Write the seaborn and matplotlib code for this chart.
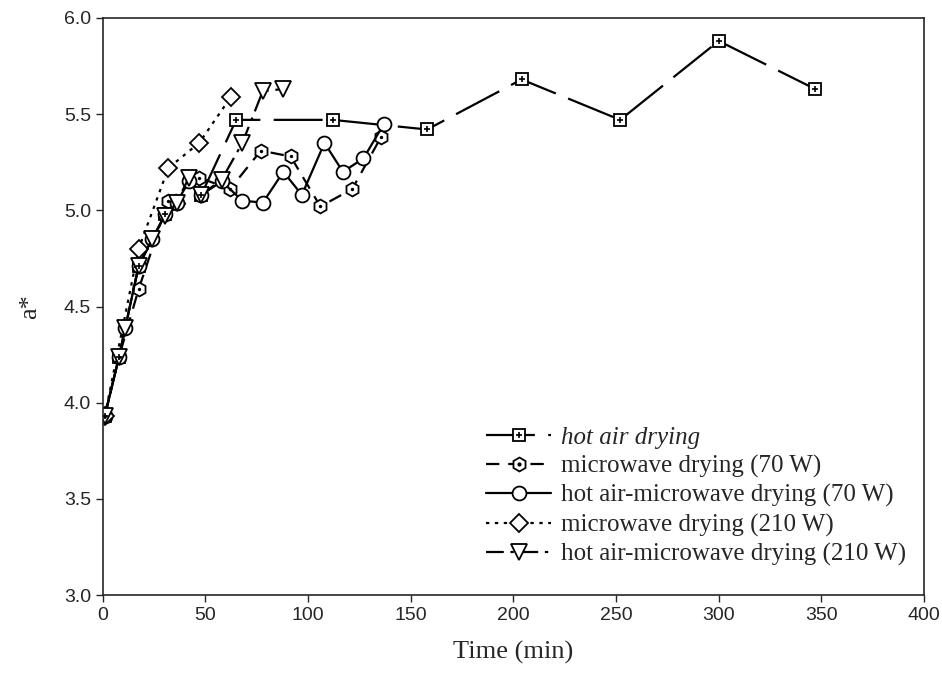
import numpy as np
import seaborn as sns
import matplotlib.pyplot as plt
from matplotlib.legend_handler import HandlerTuple

# hot air drying
t_ha = [1, 8, 17.5, 30.5, 48, 65, 112, 158, 204, 252, 300, 347]
a_ha = [3.93, 4.24, 4.71, 4.98, 5.08, 5.47, 5.47, 5.42, 5.68, 5.47, 5.88, 5.63]
# microwave drying 70 W
t_mw70 = [1, 8, 17.5, 32, 47, 62, 77, 91.5, 106, 121.5, 135.5]
a_mw70 = [3.93, 4.24, 4.59, 5.05, 5.17, 5.11, 5.31, 5.28, 5.02, 5.11, 5.38]
# hot air-microwave drying 70 W
t_ham70 = [1, 8, 11, 17.5, 24, 30.5, 36, 42, 48, 58, 68, 78, 88, 97, 108, 117, 127, 137]
a_ham70 = [3.93, 4.24, 4.39, 4.71, 4.85, 4.98, 5.04, 5.15, 5.08, 5.15, 5.05, 5.04,
           5.20, 5.08, 5.35, 5.20, 5.27, 5.45]
# microwave drying 210 W
t_mw210 = [1, 17.5, 32, 47, 62.5]
a_mw210 = [3.93, 4.80, 5.22, 5.35, 5.59]
# hot air-microwave drying 210 W
t_ham210 = [1, 8, 11, 17.5, 24, 30.5, 36, 42, 48, 58, 68, 78, 88]
a_ham210 = [3.93, 4.24, 4.39, 4.71, 4.85, 4.97, 5.04, 5.17, 5.08, 5.16, 5.35, 5.62, 5.63]

labels = ["hot air drying", "microwave drying (70 W)", "hot air-microwave drying (70 W)",
          "microwave drying (210 W)", "hot air-microwave drying (210 W)"]

sns.set_style("ticks")
plt.rcParams['font.family'] = ['Liberation Sans', 'DejaVu Sans']

fig, ax = plt.subplots(figsize=(9.42, 6.88), dpi=100)
fig.subplots_adjust(left=0.109, right=0.981, top=0.974, bottom=0.135)

lw = 1.6
common = dict(color='black', lw=lw, markerfacecolor='white',
              markeredgecolor='black', markeredgewidth=1.3, sort=False, ax=ax)

handles = []

# hot air drying: square with a cross inside
sns.lineplot(x=t_ha, y=a_ha, marker='s', markersize=8.5, linestyle=(0, (22, 6)), **common)
h1 = ax.lines[-1]
sns.scatterplot(x=t_ha, y=a_ha, marker='+', s=22, color='black', linewidth=1.2, ax=ax, zorder=3)
h1b = plt.Line2D([], [], marker='+', ls='none', color='black', markersize=5, mew=1.2)
handles.append((h1, h1b))

# microwave 70 W: hexagon with a dot
sns.lineplot(x=t_mw70, y=a_mw70, marker='h', markersize=10, linestyle=(0, (6, 4)), **common)
h2 = ax.lines[-1]
sns.scatterplot(x=t_mw70, y=a_mw70, marker='o', s=6, color='black', linewidth=0, ax=ax, zorder=3)
h2b = plt.Line2D([], [], marker='o', ls='none', color='black', markersize=2)
handles.append((h2, h2b))

sns.lineplot(x=t_ham70, y=a_ham70, marker='o', markersize=10, linestyle='-', **common)
handles.append(ax.lines[-1])

sns.lineplot(x=t_mw210, y=a_mw210, marker='D', markersize=9.5, linestyle=(0, (1.5, 2.5)), **common)
handles.append(ax.lines[-1])

sns.lineplot(x=t_ham210, y=a_ham210, marker='v', markersize=11, linestyle=(0, (8, 3, 1.5, 3)), **common)
handles.append(ax.lines[-1])

ax.set_xlim(0, 400)
ax.set_ylim(3.0, 6.0)
ax.set_xticks(np.arange(0, 401, 50))
ax.set_yticks(np.arange(3.0, 6.01, 0.5))
ax.set_yticklabels([f"{v:.1f}" for v in np.arange(3.0, 6.01, 0.5)])
ax.tick_params(labelsize=14, direction='out', length=5, width=1)
for s in ax.spines.values():
    s.set_visible(True)
    s.set_linewidth(1.2)

ax.set_xlabel("Time (min)", family='Liberation Serif', fontsize=19, labelpad=12)
ax.set_ylabel("a*", family='Liberation Serif', fontsize=19, labelpad=16)

leg = ax.legend(handles, labels, loc='lower right', bbox_to_anchor=(1.0, 0.02),
                frameon=False, handler_map={tuple: HandlerTuple(ndivide=1, pad=0)},
                prop={'family': 'Liberation Serif', 'size': 18}, handlelength=2.6,
                labelspacing=0.25, handletextpad=0.4, borderaxespad=0.3)
leg.get_texts()[0].set_style('italic')

fig.savefig("out.png", dpi=100)
